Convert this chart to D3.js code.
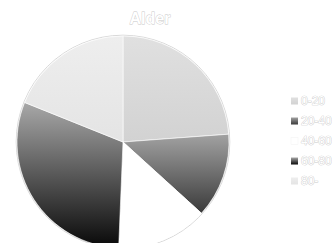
<!DOCTYPE html>
<html>
<head>
<meta charset="utf-8">
<script src="https://cdn.jsdelivr.net/npm/d3@7"></script>
<style>
  body { margin: 0; background: #fff; }
  svg { display: block; font-family: "Liberation Sans", Arial, sans-serif; }
</style>
</head>
<body>
<div id="chart"></div>
<script>
// Data (share of each age group, %)
const categories = ["0-20", "20-40", "40-60", "60-80", "80-"];
const values = [23.8, 12.9, 13.9, 30.4, 18.9];
// gradient stops per slice: [top, bottom]
const gradTop = ["#e0e0e0", "#a2a2a2", "#ffffff", "#a8a8a8", "#eeeeee"];
const gradBottom = ["#d2d2d2", "#3a3a3a", "#ffffff", "#080808", "#e4e4e4"];

const width = 332, height = 243;
const cx = 123, cy = 142, radius = 106;

const svg = d3.select("#chart").append("svg")
    .attr("width", width)
    .attr("height", height);

// gradients
const defs = svg.append("defs");
categories.forEach((c, i) => {
    const g = defs.append("linearGradient")
        .attr("id", "grad" + i)
        .attr("x1", 0).attr("y1", 0)
        .attr("x2", 0).attr("y2", 1);
    g.append("stop").attr("offset", "0%").attr("stop-color", gradTop[i]);
    g.append("stop").attr("offset", "100%").attr("stop-color", gradBottom[i]);
});

const pie = d3.pie().sort(null).value(d => d);
const arc = d3.arc().innerRadius(0).outerRadius(radius);

const g = svg.append("g").attr("transform", `translate(${cx},${cy})`);

// faint outer rim
g.append("circle")
    .attr("r", radius + 0.8)
    .attr("fill", "none")
    .attr("stroke", "#d8d8d8")
    .attr("stroke-width", 1);

g.selectAll("path")
    .data(pie(values))
    .join("path")
    .attr("d", arc)
    .attr("fill", (d, i) => `url(#grad${i})`)
    .attr("stroke", "#ffffff")
    .attr("stroke-width", 0.6);

// title
svg.append("text")
    .attr("x", 150)
    .attr("y", 24)
    .attr("text-anchor", "middle")
    .attr("font-size", "16px")
    .attr("font-weight", "bold")
    .attr("fill", "#ffffff")
    .attr("stroke", "#c8c8c8")
    .attr("stroke-width", 0.8)
    .attr("paint-order", "stroke")
    .text("Alder");

// legend
const legend = svg.append("g").attr("transform", "translate(291,101)");
const items = legend.selectAll("g")
    .data(categories)
    .join("g")
    .attr("transform", (d, i) => `translate(0,${i * 20})`);

items.append("rect")
    .attr("x", 0)
    .attr("y", -3.5)
    .attr("width", 7)
    .attr("height", 7)
    .attr("fill", (d, i) => `url(#grad${i})`)
    .attr("stroke", (d, i) => i === 2 ? "#f2f2f2" : "none")
    .attr("stroke-width", 0.5);

items.append("text")
    .attr("x", 10)
    .attr("y", 0)
    .attr("dy", "0.35em")
    .attr("font-size", "12px")
    .attr("fill", "#ffffff")
    .attr("stroke", "#c4c4c4")
    .attr("stroke-width", 0.7)
    .attr("paint-order", "stroke")
    .text(d => d);
</script>
</body>
</html>
